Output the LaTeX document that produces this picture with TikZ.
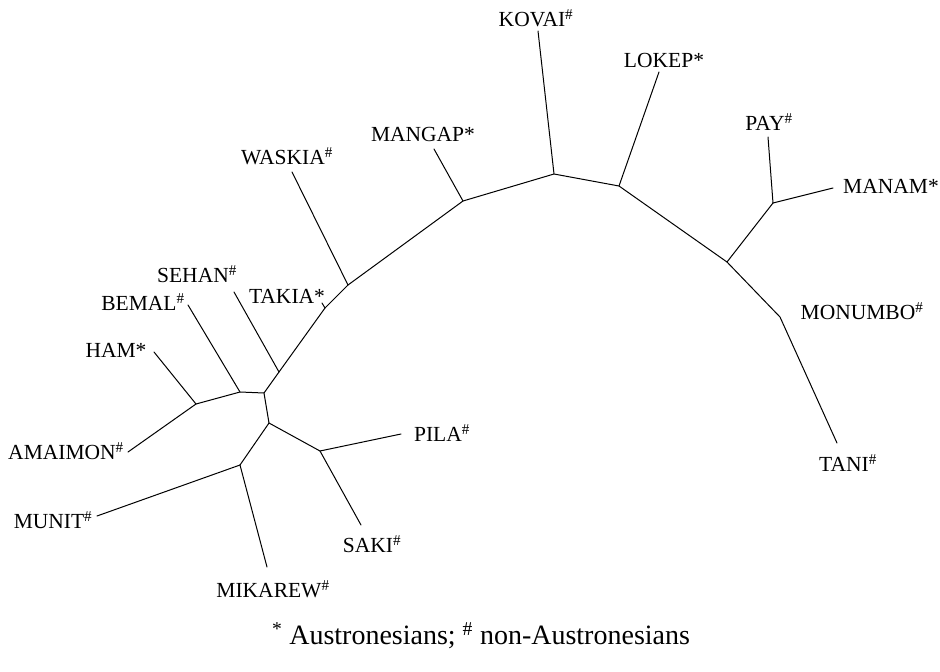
\documentclass[tikz,border=0pt]{standalone}
\usepackage{fontspec}
\setmainfont{Liberation Serif}
\tikzset{
  branch/.style={line width=1pt, line cap=round, line join=round},
  lang/.style={inner sep=1pt, font=\fontsize{21.5}{24}\selectfont},
  legend/.style={inner sep=1pt, font=\fontsize{28}{32}\selectfont}
}
\newcommand{\nonAN}{\textsuperscript{\#}}

\begin{document}
\begin{tikzpicture}[x=1pt,y=-1pt]
\useasboundingbox (0,0) rectangle (940,672);
% inner vertices
\coordinate (c1) at (264,393);
\coordinate (c2) at (269,423);
\coordinate (bem) at (240,392);
\coordinate (ham) at (196,404);
\coordinate (seh) at (279,372);
\coordinate (tak) at (325,308);
\coordinate (was) at (348,285);
\coordinate (man) at (463,201);
\coordinate (kov) at (554,174);
\coordinate (lok) at (619,186);
\coordinate (pm0) at (727,262);
\coordinate (pm) at (773,203);
\coordinate (mon) at (780,317);
\coordinate (mik) at (240,465);
\coordinate (pil) at (320,451);
% tips
\coordinate (was-t) at (292,172);
\coordinate (man-t) at (434,149);
\coordinate (kov-t) at (538,31);
\coordinate (lok-t) at (659,72);
\coordinate (pay-t) at (768,137);
\coordinate (manam-t) at (833,188);
\coordinate (tani-t) at (837,443);
\coordinate (pila-t) at (401,434);
\coordinate (saki-t) at (361,525);
\coordinate (mik-t) at (267,567);
\coordinate (munit-t) at (97,516);
\coordinate (amai-t) at (128,452);
\coordinate (ham-t) at (154,352);
\coordinate (bem-t) at (188,305);
\coordinate (seh-t) at (234,292);
\coordinate (tak-t) at (322,303);
% backbone
\draw[branch] (c2) -- (c1) -- (seh) -- (tak) -- (was) -- (man) -- (kov) -- (lok) -- (pm0) -- (mon) -- (tani-t);
\draw[branch] (c1) -- (bem) -- (ham);
\draw[branch] (pm0) -- (pm);
\draw[branch] (c2) -- (mik);
\draw[branch] (c2) -- (pil);
% leaves
\draw[branch] (was) -- (was-t);
\draw[branch] (man) -- (man-t);
\draw[branch] (kov) -- (kov-t);
\draw[branch] (lok) -- (lok-t);
\draw[branch] (pm) -- (pay-t);
\draw[branch] (pm) -- (manam-t);
\draw[branch] (pil) -- (pila-t);
\draw[branch] (pil) -- (saki-t);
\draw[branch] (mik) -- (mik-t);
\draw[branch] (mik) -- (munit-t);
\draw[branch] (ham) -- (amai-t);
\draw[branch] (ham) -- (ham-t);
\draw[branch] (bem) -- (bem-t);
\draw[branch] (seh) -- (seh-t);
\draw[branch] (tak) -- (tak-t);
% labels
\node[lang] (kovai) at (536,18) {KOVAI\nonAN};
\node[lang] (lokep) at (664,60) {LOKEP*};
\node[lang] (pay) at (769,122) {PAY\nonAN};
\node[lang] (manam) at (891,186) {MANAM*};
\node[lang] (monumbo) at (862,311) {MONUMBO\nonAN};
\node[lang] (tani) at (848,463) {TANI\nonAN};
\node[lang] (mangap) at (423,134) {MANGAP*};
\node[lang] (waskia) at (287,156) {WASKIA\nonAN};
\node[lang] (sehan) at (197,274) {SEHAN\nonAN};
\node[lang] (takia) at (287,296) {TAKIA*};
\node[lang] (bemal) at (143,302) {BEMAL\nonAN};
\node[lang] (hamn) at (116,350) {HAM*};
\node[lang] (amaimon) at (66,451) {AMAIMON\nonAN};
\node[lang] (munit) at (53,520) {MUNIT\nonAN};
\node[lang] (mikarew) at (273,589) {MIKAREW\nonAN};
\node[lang] (saki) at (372,544) {SAKI\nonAN};
\node[lang] (pila) at (442,433) {PILA\nonAN};
\node[legend] (key) at (481,636) {\textsuperscript{*} Austronesians; \textsuperscript{\#} non-Austronesians};
\end{tikzpicture}
\end{document}
